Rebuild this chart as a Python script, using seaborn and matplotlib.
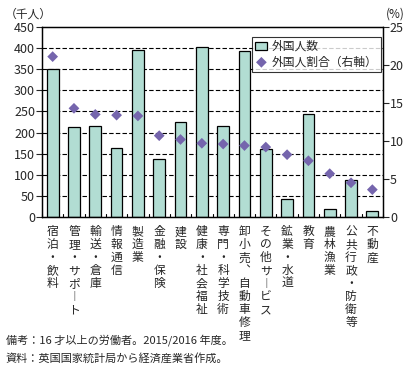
import matplotlib
matplotlib.use("Agg")
import matplotlib.pyplot as plt
import seaborn as sns
import numpy as np
import pandas as pd

# 産業別 外国人労働者数（千人）と割合（%）
categories = ['宿泊・飲料', '管理・サポート', '輸送・倉庫', '情報通信', '製造業',
              '金融・保険', '建設', '健康・社会福祉', '専門・科学技術',
              '卸小売、自動車修理', 'その他サービス', '鉱業・水道', '教育',
              '農林漁業', '公共行政・防衛等', '不動産']
workers = [350, 212, 215, 163, 395, 137, 226, 402, 215, 393, 162, 43, 244, 19, 88, 14]
share = [21.1, 14.3, 13.5, 13.4, 13.3, 10.7, 10.2, 9.7, 9.6, 9.4, 9.2, 8.2, 7.4, 5.7, 4.5, 3.6]

df = pd.DataFrame({'cat': categories, 'workers': workers, 'share': share})

sns.set_style('white')
plt.rcParams['font.family'] = ['Noto Sans CJK JP', 'DejaVu Sans']

fig = plt.figure(figsize=(4.07, 3.67), dpi=100)
ax = fig.add_axes([42 / 407, 1 - 217 / 367, 341 / 407, 190 / 367])

sns.barplot(data=df, x='cat', y='workers', color='#b2ddd3', edgecolor='black',
            linewidth=0.9, width=0.55, saturation=1, ax=ax, label='外国人数', zorder=2)
ax.set_ylim(0, 450)
ax.set_yticks(np.arange(0, 451, 50))
for y in np.arange(50, 450, 50):
    ax.axhline(y, color='black', lw=0.8, ls=(0, (4, 2)), zorder=1)

ax2 = ax.twinx()
sns.scatterplot(data=df, x='cat', y='share', marker='D', color='#7565ad', s=30,
                edgecolor='none', ax=ax2, label='外国人割合（右軸）', zorder=3)
ax2.set_ylim(0, 25)
ax2.set_yticks(np.arange(0, 26, 5))

# 縦書きのカテゴリラベル
def vertical(s):
    s = s.replace('ー', '︱').replace('、', '︑')
    return '\n'.join(s)

ax.set_xticks(range(len(categories)))
ax.set_xticklabels([vertical(c) for c in categories], fontsize=8.5,
                   va='top', linespacing=1.0)
ax.set_xlim(-0.5, len(categories) - 0.5)
ax.tick_params(axis='x', length=0, pad=6)
for b in np.arange(-0.5, len(categories), 1.0):
    ax.plot([b, b], [0, 8], color='black', lw=0.8, zorder=4, clip_on=False)

ax.tick_params(axis='y', labelsize=9, length=4, direction='out', left=True, pad=1)
ax2.tick_params(axis='y', labelsize=9, length=4, direction='out', right=True, pad=1)
ax.set_xlabel('')
ax.set_ylabel('')
ax2.set_ylabel('')
for a in (ax, ax2):
    for sp in a.spines.values():
        sp.set_color('black')
        sp.set_linewidth(0.9)

# 凡例
h1, l1 = ax.get_legend_handles_labels()
h2, l2 = ax2.get_legend_handles_labels()
if ax.get_legend():
    ax.get_legend().remove()
leg = ax2.legend(h1 + h2, l1 + l2, loc='upper right', bbox_to_anchor=(0.995, 0.95),
                 fontsize=8.5, frameon=True, fancybox=False, edgecolor='black',
                 borderpad=0.3, handlelength=1.0, handletextpad=0.4, labelspacing=0.2,
                 borderaxespad=0)
leg.get_frame().set_linewidth(0.8)

fig.text(5 / 407, 1 - 14 / 367, '（千人）', fontsize=8.5, va='center', ha='left')
fig.text(405 / 407, 1 - 14 / 367, '(%)', fontsize=8.5, va='center', ha='right')
fig.text(6 / 407, 1 - 340 / 367, '備考：16 才以上の労働者。2015/2016 年度。', fontsize=8, va='center')
fig.text(6 / 407, 1 - 358 / 367, '資料：英国国家統計局から経済産業省作成。', fontsize=8, va='center')

fig.savefig('out.png', dpi=100)
